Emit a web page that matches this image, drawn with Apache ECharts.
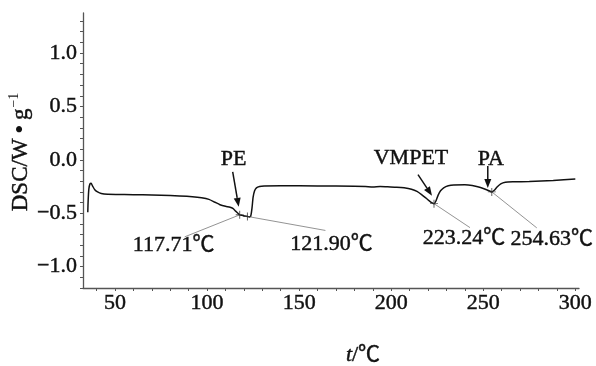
<!DOCTYPE html>
<html>
<head>
<meta charset="utf-8">
<script src="https://cdn.jsdelivr.net/npm/echarts@6/dist/echarts.min.js"></script>
<style>
  html, body { margin: 0; padding: 0; background: #fff; }
  #chart { width: 596px; height: 366px; }
</style>
</head>
<body>
<div id="chart"></div>
<script>
// DSC heat-flow curve (temperature in ℃, DSC in W·g⁻¹)
const temps = [35.2, 35.4, 35.8, 36.4, 37.0, 37.8, 39.0, 40.5, 42.5, 46, 55, 65, 75, 85, 92, 97, 101, 104, 107, 110,
  112.5, 114, 115.5, 117, 117.71, 119, 120.5, 121.9, 123, 123.8, 124.4, 125, 125.8, 126.8, 128.5, 131, 140, 160, 180,
  186, 190, 194, 198, 203, 207, 211, 214, 216.5, 219, 221.5, 223.24, 224.3, 225.5, 226.8, 228.5, 231, 234, 240, 244,
  247, 250, 252.5, 254.63, 256, 257.5, 259.5, 262, 266, 275, 288, 300];
const dsc = [-0.49, -0.38, -0.27, -0.225, -0.22, -0.245, -0.28, -0.30, -0.315, -0.322, -0.325, -0.328, -0.332, -0.338,
  -0.345, -0.355, -0.37, -0.395, -0.42, -0.435, -0.443, -0.455, -0.48, -0.505, -0.515, -0.52, -0.525, -0.53, -0.535,
  -0.52, -0.45, -0.35, -0.29, -0.262, -0.25, -0.245, -0.243, -0.244, -0.247, -0.25, -0.255, -0.25, -0.253, -0.256,
  -0.262, -0.275, -0.295, -0.325, -0.36, -0.395, -0.41, -0.385, -0.33, -0.29, -0.262, -0.243, -0.235, -0.234, -0.24,
  -0.252, -0.268, -0.285, -0.30, -0.285, -0.255, -0.225, -0.21, -0.206, -0.203, -0.193, -0.18];

// Marked peak temperatures
const peakTemps = [117.71, 121.90, 223.24, 254.63];
const peakValues = [-0.515, -0.53, -0.41, -0.30];
const peakLabels = ['117.71℃', '121.90℃', '223.24℃', '254.63℃'];

// Layer names, each pointing at one of the peaks above
const layerNames = ['PE', 'VMPET', 'PA'];
const layerPeakIndex = [0, 2, 3];

// Tick labels
const xTicks = [50, 100, 150, 200, 250, 300];
const yTicks = [-1.0, -0.5, 0.0, 0.5, 1.0];

const SERIF = '"Liberation Serif", "Times New Roman", "Noto Sans CJK SC", serif';
const INK = '#111';
const STROKE = 0.45; // slight outline to give the serif text some weight
const xMinor = [];
for (let v = 40; v <= 300; v += 10) xMinor.push(v);
const yMinor = [];
for (let k = -12; k <= 13; k++) yMinor.push(+(k / 10).toFixed(1));

const chart = echarts.init(document.getElementById('chart'), null, { renderer: 'canvas' });

const axisCommon = {
  axisLine: { show: true, onZero: false, lineStyle: { color: '#555', width: 1.3 } },
  splitLine: { show: false },
  axisTick: { show: true, inside: false, length: 3, lineStyle: { color: '#555', width: 1 } }
};
const tickText = { color: INK, fontFamily: SERIF, fontSize: 22, textBorderColor: INK, textBorderWidth: STROKE };

chart.setOption({
  animation: false,
  backgroundColor: '#fff',
  grid: { left: 83, right: 17, top: 13, bottom: 78 },
  xAxis: Object.assign({}, axisCommon, {
    type: 'value', min: 32.6, max: 302,
    axisTick: Object.assign({}, axisCommon.axisTick, { customValues: xMinor }),
    axisLabel: Object.assign({ customValues: xTicks, margin: 4, formatter: v => String(Math.round(v)) }, tickText)
  }),
  yAxis: Object.assign({}, axisCommon, {
    type: 'value', min: -1.2, max: 1.375,
    axisTick: Object.assign({}, axisCommon.axisTick, { customValues: yMinor }),
    axisLabel: Object.assign({ customValues: yTicks, margin: 6,
      formatter: v => (v < 0 ? '\u2212' : '') + Math.abs(v).toFixed(1) }, tickText)
  }),
  series: [
    {
      type: 'line',
      data: temps.map((t, i) => [t, dsc[i]]),
      showSymbol: false,
      smooth: 0.2,
      lineStyle: { color: INK, width: 1.5 },
      z: 3
    },
    {
      type: 'scatter',
      data: peakTemps.map((t, i) => [t, peakValues[i]]),
      symbol: 'path://M0,4.4H4.4V0H5.6V4.4H10V5.6H5.6V10H4.4V5.6H0Z',
      symbolSize: 8,
      itemStyle: { color: '#333' },
      z: 4
    }
  ]
});

// Annotations placed relative to the peak positions
const labelOffset = [[-66, 30], [84, 28], [30, 35], [60, 47]];
const leaderOffset = [[-55, 22], [78, 14], [36, 24], [45, 36]];
const arrowTail = [[-7, -43], [-16, -29], [-4, -26]];
const arrowTip = [[-1, -8], [-2, -8], [-4, -4]];
const nameOffset = [[-6, -56], [-23, -45], [-1, -33]];

const px = peakTemps.map((t, i) => chart.convertToPixel({ gridIndex: 0 }, [t, peakValues[i]]));
const g = [];
const textStyle = (text) => ({
  text, fill: INK, font: '22px ' + SERIF, align: 'center', verticalAlign: 'middle',
  stroke: INK, lineWidth: STROKE
});

px.forEach((p, i) => {
  g.push({
    type: 'line', silent: true,
    shape: { x1: p[0], y1: p[1], x2: p[0] + leaderOffset[i][0], y2: p[1] + leaderOffset[i][1] },
    style: { stroke: '#777', lineWidth: 0.8 }
  });
  g.push({
    type: 'text', silent: true,
    x: p[0] + labelOffset[i][0], y: p[1] + labelOffset[i][1],
    style: textStyle(peakLabels[i])
  });
});

layerNames.forEach((name, j) => {
  const p = px[layerPeakIndex[j]];
  const tx = p[0] + arrowTail[j][0], ty = p[1] + arrowTail[j][1];
  const hx = p[0] + arrowTip[j][0], hy = p[1] + arrowTip[j][1];
  const ang = Math.atan2(hy - ty, hx - tx);
  const L = 9, W = 3.5;
  const bx = hx - L * Math.cos(ang), by = hy - L * Math.sin(ang);
  const nx = -Math.sin(ang) * W, ny = Math.cos(ang) * W;
  g.push({
    type: 'line', silent: true,
    shape: { x1: tx, y1: ty, x2: bx, y2: by },
    style: { stroke: INK, lineWidth: 1.5 }
  });
  g.push({
    type: 'polygon', silent: true,
    shape: { points: [[hx, hy], [bx + nx, by + ny], [bx - nx, by - ny]] },
    style: { fill: INK }
  });
  g.push({
    type: 'text', silent: true,
    x: p[0] + nameOffset[j][0], y: p[1] + nameOffset[j][1],
    style: textStyle(name)
  });
});

// Axis titles
g.push({
  type: 'text', silent: true, x: 21, y: 152, rotation: Math.PI / 2,
  style: {
    text: '{m|DSC/W\u2009}{b|\u2022}{m|\u2009g}{s|\u22121}',
    align: 'center', verticalAlign: 'middle',
    rich: {
      m: { fontFamily: SERIF, fontSize: 23, fill: INK, stroke: INK, lineWidth: STROKE },
      b: { fontFamily: SERIF, fontSize: 26, fill: INK },
      s: { fontFamily: SERIF, fontSize: 14, fill: INK, padding: [0, 0, 13, 1] }
    }
  }
});
g.push({
  type: 'text', silent: true, x: 363, y: 355,
  style: {
    text: '{i|t}{m|/℃}',
    align: 'center', verticalAlign: 'middle',
    rich: {
      i: { fontFamily: SERIF, fontSize: 22, fontStyle: 'italic', fill: INK, stroke: INK, lineWidth: STROKE },
      m: { fontFamily: SERIF, fontSize: 22, fill: INK, stroke: INK, lineWidth: STROKE }
    }
  }
});

chart.setOption({ graphic: g });
</script>
</body>
</html>
